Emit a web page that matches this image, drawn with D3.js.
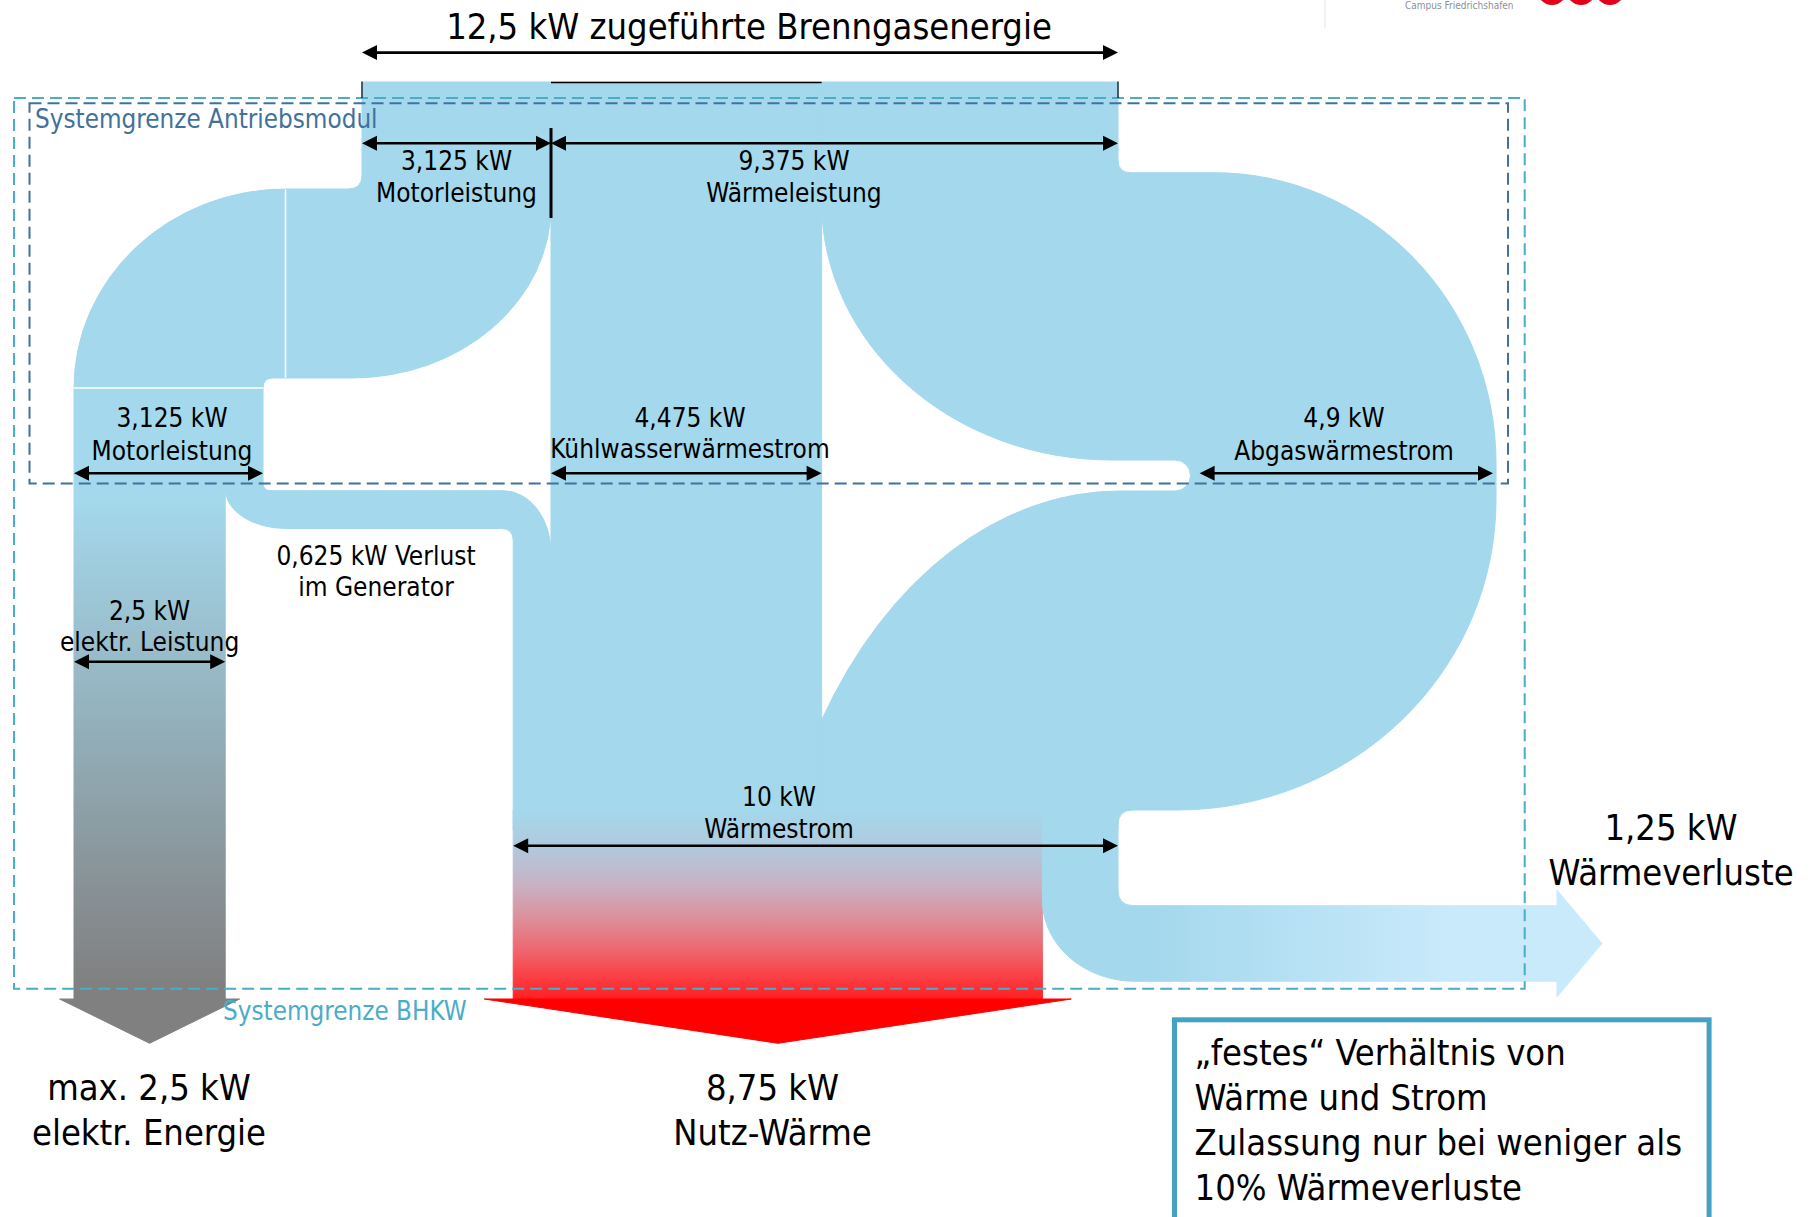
<!DOCTYPE html>
<html>
<head>
<meta charset="utf-8">
<script src="https://cdn.jsdelivr.net/npm/d3@7"></script>
<style>
  html, body { margin: 0; padding: 0; background: #fff; }
  svg { display: block; }
  text { font-family: "DejaVu Sans Condensed", "DejaVu Sans", sans-serif; font-stretch: condensed; }
</style>
</head>
<body>
<svg id="chart" width="1816" height="1217"></svg>
<script>
// Energieflüsse eines BHKW (Blockheizkraftwerk), Werte in kW
const flowKeys   = ["brenngas", "motor", "waerme", "kuehlwasser", "abgas", "elektr", "generator", "waermestrom", "nutzwaerme", "verluste"];
const flowValues = [12.5, 3.125, 9.375, 4.475, 4.9, 2.5, 0.625, 10, 8.75, 1.25];
const flowLabels = ["zugeführte Brenngasenergie", "Motorleistung", "Wärmeleistung", "Kühlwasserwärmestrom",
                    "Abgaswärmestrom", "elektr. Leistung", "Verlust", "Wärmestrom", "Nutz-Wärme", "Wärmeverluste"];
const outputKeys   = ["elektr", "nutzwaerme", "verluste"];
const outputLabels = ["elektr. Energie", "Nutz-Wärme", "Wärmeverluste"];
const outputPrefix = ["max. ", "", ""];
const boundaryLabels = ["Systemgrenze Antriebsmodul", "Systemgrenze BHKW"];
const noteLines = ["„festes“ Verhältnis von", "Wärme und Strom", "Zulassung nur bei weniger als", "10% Wärmeverluste"];

const v = Object.fromEntries(flowKeys.map((k, i) => [k, flowValues[i]]));
const name = Object.fromEntries(flowKeys.map((k, i) => [k, flowLabels[i]]));
const de = d3.formatLocale({ decimal: ",", thousands: ".", grouping: [3], currency: ["", " €"] });
const fmt = de.format("~g");
const kWtxt = k => `${fmt(v[k])} kW`;

// Bandbreite proportional zur Leistung
const kw = d3.scaleLinear().domain([0, v.brenngas]).range([0, 756]);

const svg = d3.select("#chart");
const defs = svg.append("defs");
const BLUE = "#a4d8ec";

// ---- Layout der Bänder ----
const yTop = 82;
const X0 = 362;                              // linke Kante Brenngas
const xMotorR = X0 + kw(v.motor);            // Grenze Motor | Wärme
const xInR = X0 + kw(v.brenngas);            // rechte Kante Brenngas
const xKuehlR = xMotorR + kw(v.kuehlwasser); // Grenze Kühlwasser | Abgas
const XL = 74;                               // linke Kante Motorleistung unten
const xLowR = XL + kw(v.motor);
const xElR = XL + kw(v.elektr);
const xLossL = xMotorR - kw(v.generator);    // Generatorverlust mündet links in den Wärmestrom
const xNutzR = xLossL + kw(v.nutzwaerme);
const xAbR = 1496, xAbL = xAbR - kw(v.abgas);
const yMT = 189, yMB = yMT + kw(v.motor);
const yLow = yMB + 10;
const yGT = 490.7, yGB = yGT + kw(v.generator);
const yVT = 905.7, yVB = yVT + kw(v.verluste);
const yBase = 999, yTip = 1043.3;

// ---- Verläufe ----
const gEl = defs.append("linearGradient").attr("id", "gradEl")
  .attr("gradientUnits", "userSpaceOnUse").attr("x1", 0).attr("x2", 0).attr("y1", 500).attr("y2", 985);
gEl.append("stop").attr("offset", 0).attr("stop-color", BLUE);
gEl.append("stop").attr("offset", 1).attr("stop-color", "#808080");

const gNutz = defs.append("linearGradient").attr("id", "gradNutz")
  .attr("gradientUnits", "userSpaceOnUse").attr("x1", 0).attr("x2", 0).attr("y1", 810).attr("y2", yBase);
[[0, BLUE], [0.2, "#b1c9dd"], [0.4, "#c8b1c3"], [0.58, "#dd8e99"], [0.75, "#ef646c"], [0.9, "#fb3a3f"], [1, "#ff1f22"]]
  .forEach(([o, c]) => gNutz.append("stop").attr("offset", o).attr("stop-color", c));

const gVerl = defs.append("linearGradient").attr("id", "gradVerl")
  .attr("gradientUnits", "userSpaceOnUse").attr("x1", 1150).attr("x2", 1450).attr("y1", 0).attr("y2", 0);
gVerl.append("stop").attr("offset", 0).attr("stop-color", BLUE);
gVerl.append("stop").attr("offset", 1).attr("stop-color", "#c9eafb");

// ---- Flussbänder ----
const flowsG = svg.append("g");
// Kontur in Füllfarbe schließt Fugen zwischen angrenzenden Teilstücken
const shape = (d, fill) => flowsG.append("path").attr("d", d).attr("fill", fill)
  .attr("stroke", fill).attr("stroke-width", 1).attr("stroke-linejoin", "round");

// Motorleistung: von oben nach links
shape(`M${X0},${yTop} L${xMotorR},${yTop} L${xMotorR},206
       A${xMotorR - 352},${yMB - 206} 0 0 1 352,${yMB} L286,${yMB} L286,${yMT}
       L${X0 - 14},${yMT} Q${X0},${yMT} ${X0},${yMT - 14} Z`, BLUE);
// Motorleistung: nach unten abbiegen
shape(`M286,${yMT} L286,${yMB} L${xLowR + 10},${yMB} Q${xLowR},${yMB} ${xLowR},${yLow}
       L${XL},${yLow} A${286 - XL},${yLow - yMT} 0 0 1 286,${yMT} Z`, BLUE);
shape(`M${XL},${yLow} L${xLowR},${yLow} L${xLowR},483 L${XL},483 Z`, BLUE);

// Generatorverlust: nach rechts in den Wärmestrom
shape(`M${xElR},483 L${xLowR},483 Q${xLowR},${yGT} ${xLowR + 8},${yGT} L${xLossL - 10},${yGT}
       A${xMotorR - (xLossL - 10)},62 0 0 1 ${xMotorR},${yGT + 62} L${xMotorR},830 L${xLossL},830
       L${xLossL},${yGB + 12} Q${xLossL},${yGB} ${xLossL - 12},${yGB} L286,${yGB}
       A${286 - xElR},${yGB - 489} 0 0 1 ${xElR},489 Z`, BLUE);

// Kühlwasserwärmestrom: gerade nach unten
shape(`M${xMotorR},${yTop} L${xKuehlR},${yTop} L${xKuehlR},830 L${xMotorR},830 Z`, BLUE);

// Abgaswärmestrom: Bogen nach rechts und zurück
shape(`M${xKuehlR},${yTop} L${xInR},${yTop} L${xInR},160 Q${xInR},172.7 ${xInR + 13},172.7 L1214,172.7
       A${xAbR - 1214},${463 - 172.7} 0 0 1 ${xAbR},463 L${xAbR},500
       A${xAbR - 1177},310 0 0 1 1177,810 L${xInR + 15},810 Q${xInR},810 ${xInR},825
       L${xInR},830 L${xKuehlR},830 L${xKuehlR},720
       A354.8,500 0 0 1 1120,491 L1175,491 A15.5,15.5 0 0 0 1175,460 L1111.6,460
       A${1111.6 - xKuehlR},${460 - 201.7} 0 0 1 ${xKuehlR},201.7 Z`, BLUE);

// Elektrische Leistung
shape(`M${XL},483 L${xElR},483 L${xElR},${yBase} L${XL},${yBase} Z`, "url(#gradEl)");
const cEl = (XL + xElR) / 2;
shape(`M${cEl - 90},${yBase} L${cEl + 90},${yBase} L${cEl},${yTip} Z`, "#808080");

// Nutz-Wärme
shape(`M${xLossL},810 L${xNutzR},810 L${xNutzR},${yBase} L${xLossL},${yBase} Z`, "url(#gradNutz)");
const cN = (xLossL + xNutzR) / 2;
shape(`M${cN - 293.5},${yBase} L${cN + 293.5},${yBase} L${cN},${yTip} Z`, "#ff0000");

// Wärmeverluste
const yVC = (yVT + yVB) / 2;
shape(`M${xNutzR},805 L${xInR},805 L${xInR},890 Q${xInR},${yVT} ${xInR + 16},${yVT} L1557,${yVT}
       L1557,${yVC - 53.3} L1602,${yVC} L1557,${yVC + 53.3} L1557,${yVB} L${xInR + 17},${yVB}
       A${xInR + 17 - xNutzR},${yVB - 900} 0 0 1 ${xNutzR},900 Z`, "url(#gradVerl)");

// feine Fugen zwischen den Teilstücken
flowsG.append("line").attr("x1", 285.5).attr("x2", 285.5).attr("y1", yMT + 0.5).attr("y2", yMB - 0.5)
  .attr("stroke", "#fff").attr("stroke-width", 1.5);
flowsG.append("line").attr("x1", XL).attr("x2", xLowR).attr("y1", yLow).attr("y2", yLow)
  .attr("stroke", "#fff").attr("stroke-width", 1.5);

// ---- Systemgrenzen ----
const bounds = svg.append("g").attr("fill", "none").attr("stroke-width", 2).attr("stroke-dasharray", "12 6");
bounds.append("rect").attr("x", 14).attr("y", 98).attr("width", 1524.7 - 14).attr("height", 988.8 - 98)
  .attr("stroke", "#4bacc6");
bounds.append("rect").attr("x", 29.5).attr("y", 103.3).attr("width", 1508 - 29.5).attr("height", 483.5 - 103.3)
  .attr("stroke", "#41719c");

// ---- Maßpfeile ----
const dims = svg.append("g");
function dimArrow(x1, x2, y) {
  const L = 15, H = 7.5;
  dims.append("line").attr("x1", x1 + L - 1).attr("x2", x2 - L + 1).attr("y1", y).attr("y2", y)
    .attr("stroke", "#000").attr("stroke-width", 2.6);
  dims.append("path").attr("d", `M${x1},${y} L${x1 + L},${y - H} L${x1 + L},${y + H} Z`).attr("fill", "#000");
  dims.append("path").attr("d", `M${x2},${y} L${x2 - L},${y - H} L${x2 - L},${y + H} Z`).attr("fill", "#000");
}
dimArrow(X0, xInR, 52.6);
dimArrow(X0, xMotorR, 143.3);
dimArrow(xMotorR, xInR, 143.3);
dimArrow(XL, xLowR, 473.3);
dimArrow(xMotorR, xKuehlR, 473.3);
dimArrow(xAbL, xAbR - 3, 473.3);
dimArrow(XL, xElR, 661.8);
dimArrow(xLossL, xInR, 845.7);

dims.append("line").attr("x1", xMotorR).attr("x2", xMotorR).attr("y1", 128).attr("y2", 218)
  .attr("stroke", "#000").attr("stroke-width", 3);
dims.append("line").attr("x1", xMotorR).attr("x2", xKuehlR).attr("y1", yTop + 0.5).attr("y2", yTop + 0.5)
  .attr("stroke", "#000").attr("stroke-width", 1.5);
[X0, xInR].forEach(x => dims.append("line").attr("x1", x).attr("x2", x).attr("y1", yTop - 0.5).attr("y2", 98)
  .attr("stroke", "#000").attr("stroke-width", 1.2));

// ---- Beschriftungen ----
const texts = svg.append("g").attr("fill", "#000");
function label(x, y, lines, size, gap, anchor = "middle", fill = "#000") {
  lines.forEach((t, i) => texts.append("text").attr("x", x).attr("y", y + i * gap)
    .attr("text-anchor", anchor).attr("font-size", size).attr("fill", fill).text(t));
}
label(749, 38.7, [`${kWtxt("brenngas")} ${name.brenngas}`], 36, 0);
label((X0 + xMotorR) / 2, 170, [kWtxt("motor"), name.motor], 26, 31.7);
label(794, 170, [kWtxt("waerme"), name.waerme], 26, 31.7);
label(172, 426.7, [kWtxt("motor"), name.motor], 26, 33);
label(690, 426.7, [kWtxt("kuehlwasser"), name.kuehlwasser], 26, 31.7);
label(1344, 426.7, [kWtxt("abgas"), name.abgas], 26, 33);
label(376, 564.7, [`${kWtxt("generator")} ${name.generator}`, "im Generator"], 26, 31);
label(cEl, 619.8, [kWtxt("elektr"), name.elektr], 26, 31);
label(779, 806, [kWtxt("waermestrom"), name.waermestrom], 26, 32.3);

const outX = [149, 772.5, 1671], outY = [1100, 1100, 840];
outputKeys.forEach((k, i) =>
  label(outX[i], outY[i], [`${outputPrefix[i]}${kWtxt(k)}`, outputLabels[i]], 36, 45));

label(35, 128.3, [boundaryLabels[0]], 25.8, 0, "start", "#41719c");
label(223, 1020, [boundaryLabels[1]], 25.8, 0, "start", "#4bacc6");

// Hinweiskasten
svg.append("rect").attr("x", 1174.5).attr("y", 1019.8).attr("width", 1709.1 - 1174.5).attr("height", 260)
  .attr("fill", "none").attr("stroke", "#45a2c5").attr("stroke-width", 5);
label(1194.6, 1065, noteLines, 36, 45, "start");

// Kopfzeile (Logo)
const logo = svg.append("g");
logo.append("line").attr("x1", 1325).attr("x2", 1325).attr("y1", 0).attr("y2", 28)
  .attr("stroke", "#ececec").attr("stroke-width", 1.5);
logo.append("text").attr("x", 1405).attr("y", 9).attr("font-size", 10).attr("fill", "#8b9099")
  .text("Campus Friedrichshafen");
[1552, 1581, 1610].forEach(cx => logo.append("circle").attr("cx", cx).attr("cy", -9.5).attr("r", 14.5)
  .attr("fill", "#e2001a"));
</script>
</body>
</html>
